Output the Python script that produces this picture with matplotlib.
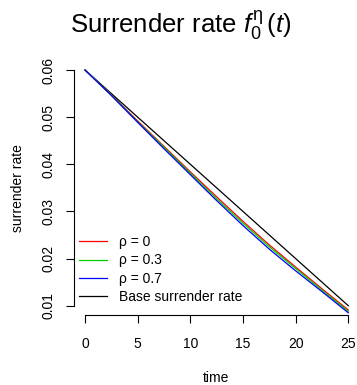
import matplotlib
matplotlib.use("Agg")
import matplotlib.pyplot as plt

plt.rcParams["font.family"] = ["Liberation Sans", "DejaVu Sans"]
plt.rcParams["mathtext.fontset"] = "custom"
plt.rcParams["mathtext.rm"] = "Liberation Sans"
plt.rcParams["mathtext.it"] = "Liberation Sans:italic"

# values
time = [0, 2.5, 5, 7.5, 10, 12.5, 15, 17.5, 20, 22.5, 25]
base_rate = [0.06, 0.055, 0.05, 0.045, 0.04, 0.035, 0.03, 0.025, 0.02, 0.015, 0.01]
rate_rho0 = [0.06, 0.0547, 0.0492, 0.0438, 0.0384, 0.0331, 0.0279, 0.0229, 0.0182, 0.0136, 0.0091]
rate_rho03 = [0.06, 0.05465, 0.0490, 0.0436, 0.0381, 0.0327, 0.0275, 0.0225, 0.0179, 0.0133, 0.0088]
rate_rho07 = [0.06, 0.0546, 0.0489, 0.0433, 0.0378, 0.0323, 0.0270, 0.0220, 0.0174, 0.0130, 0.0085]
labels = ["ρ = 0", "ρ = 0.3", "ρ = 0.7", "Base surrender rate"]
xticks = [0, 5, 10, 15, 20, 25]
yticks = [0.01, 0.02, 0.03, 0.04, 0.05, 0.06]

W, H = 357, 385
fig = plt.figure(figsize=(W / 100, H / 100), dpi=100)
ax = fig.add_axes([74 / W, 1 - 315 / H, (358.8 - 74) / W, (315 - 60.6) / H])

lw = 0.9
ax.plot(time, base_rate, color="black", lw=lw)
l0, = ax.plot(time, rate_rho0, color="#FF0000", lw=lw)
l1, = ax.plot(time, rate_rho03, color="#00CD00", lw=lw)
l2, = ax.plot(time, rate_rho07, color="#0000FF", lw=lw)
lb, = ax.plot([], [], color="black", lw=lw)

ax.set_xlim(-1.05, 26)
ax.set_ylim(0.00803, 0.062)

for s in ["top", "right"]:
    ax.spines[s].set_visible(False)
ax.spines["bottom"].set_bounds(0, 25)
ax.spines["left"].set_bounds(0.01, 0.06)

ax.set_xticks(xticks)
ax.set_xticklabels([str(v) for v in xticks])
ax.set_yticks(yticks)
ax.set_yticklabels([f"{v:.2f}" for v in yticks], rotation=90, va="center")
ax.tick_params(axis="both", length=6, width=0.8, labelsize=10)
ax.tick_params(axis="x", pad=9.5)
ax.tick_params(axis="y", pad=7.5)

ax.set_xlabel("time", fontsize=10)
ax.xaxis.set_label_coords(0.5, (315 - 378) / 254.4)
ax.xaxis.label.set_va("center")
ax.set_ylabel("surrender rate", fontsize=10)
ax.yaxis.set_label_coords((18 - 74) / 284.8, 0.5)
ax.yaxis.label.set_va("center")

ax.legend([l0, l1, l2, lb], labels, loc="lower left",
          bbox_to_anchor=(0.017, 0.044), frameon=False, fontsize=10,
          handlelength=2.0, handletextpad=0.9, labelspacing=0.3,
          borderpad=0, borderaxespad=0)

fig.text(181 / W, 1 - 33 / H, r"Surrender rate $f_0^{\mathrm{η}}\,(t)$",
         fontsize=18.5, ha="center", va="baseline")

fig.savefig("out.png", dpi=100)
